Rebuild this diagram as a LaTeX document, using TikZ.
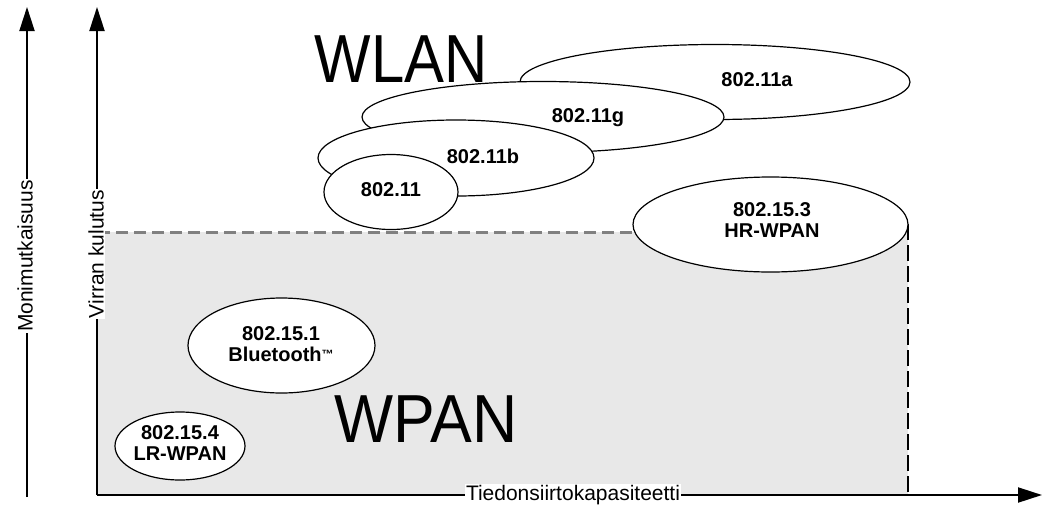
\documentclass[tikz,border=0pt]{standalone}
\usepackage{fontspec}
\setmainfont{Liberation Sans}
\usetikzlibrary{arrows.meta,shapes.geometric}
\begin{document}
\begin{tikzpicture}[x=1pt,y=-1pt,
  axis/.style={line width=2pt,-{Triangle[length=24pt,width=15pt]}},
  ell/.style={draw,ellipse,fill=white,line width=1.2pt,inner sep=0pt},
  lab/.style={font=\fontsize{20}{21}\selectfont\bfseries,align=center,inner sep=0pt},
  axlab/.style={font=\fontsize{21}{22}\selectfont,fill=white,inner sep=1pt},
  big/.style={font=\fontsize{68}{70}\selectfont,inner sep=0pt,anchor=base}]
\useasboundingbox (0,0) rectangle (1044,509);
% WPAN region
\fill[black!9] (97,232) rectangle (908,495);
\coordinate (dl) at (98,232);
\coordinate (dr) at (700,232);
\coordinate (vt) at (908,224);
\coordinate (vb) at (908,492);
\draw[black!50,line width=3pt,dash pattern=on 12pt off 6pt] (dl) -- (dr);
\draw[black,line width=1.2pt,dash pattern=on 16pt off 5pt] (vt) -- (vb);
% axes
\coordinate (o1) at (27,497);
\coordinate (t1) at (27,7);
\coordinate (o2) at (97,495);
\coordinate (t2) at (97,7);
\coordinate (tx) at (1042,495);
\draw[axis] (o1) -- (t1);
\draw[axis] (o2) -- (t2);
\draw[axis] (o2) -- (tx);
% WLAN ellipses
\node[ell,minimum width=390pt,minimum height=75pt] (e11a) at (715,82) {};
\node[ell,minimum width=362pt,minimum height=71pt] (e11g) at (543,117) {};
\node[ell,minimum width=276pt,minimum height=76pt] (e11b) at (456,158) {};
\node[ell,minimum width=134pt,minimum height=75pt] (e11) at (391,192) {};
% WPAN ellipses
\node[ell,minimum width=275pt,minimum height=95pt] (hr) at (770.5,224.5) {};
\node[ell,minimum width=187pt,minimum height=95pt] (bt) at (281.5,345.5) {};
\node[ell,minimum width=130pt,minimum height=68pt] (lr) at (180,446) {};
% labels
\node[lab] (l11a) at (757,80) {802.11a};
\node[lab] (l11g) at (588,118) {802.11g};
\node[lab] (l11b) at (483,156) {802.11b};
\node[lab] (l11) at (391,190) {802.11};
\node[lab] (lhr) at (772,220) {802.15.3\\HR-WPAN};
\node[lab] (lbt) at (281,344) {802.15.1\\Bluetooth{\fontsize{12}{12}\selectfont\raisebox{3pt}{™}}};
\node[lab] (llr) at (180,443) {802.15.4\\LR-WPAN};
% big texts
\node[big] (wlan) at (401,82) {\scalebox{0.88}[1]{WLAN}};
\node[big] (wpan) at (426,442) {\scalebox{0.92}[1]{WPAN}};
% axis labels
\node[axlab] (xl) at (573,495) {Tiedonsiirtokapasiteetti};
\node[axlab,rotate=90] (yl1) at (25,256) {Monimutkaisuus};
\node[axlab,rotate=90] (yl2) at (96,254) {Virran kulutus};
\end{tikzpicture}
\end{document}
